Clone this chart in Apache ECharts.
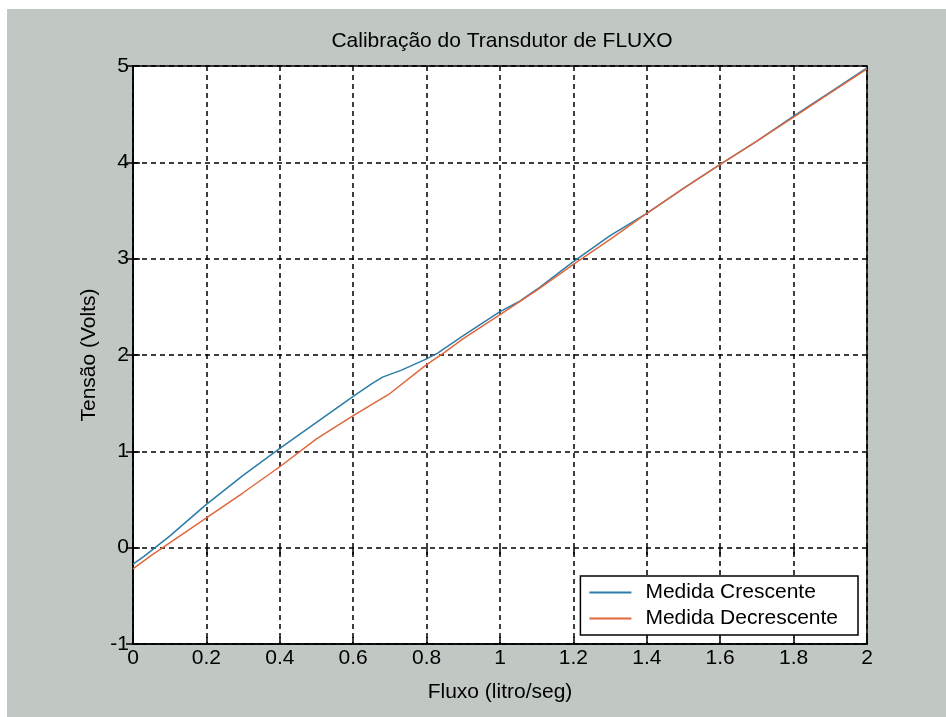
<!DOCTYPE html>
<html><head><meta charset="utf-8">
<script src="https://cdn.jsdelivr.net/npm/echarts@6/dist/echarts.min.js"></script>
<style>html,body{margin:0;padding:0;background:#fff;width:946px;height:717px;overflow:hidden}
#c{position:absolute;left:7px;top:9px;width:939px;height:708px;background:#c1c7c3}</style>
</head><body><div id="c"></div>
<script>
const titleText = 'Calibração do Transdutor de FLUXO';
const xLabel = 'Fluxo (litro/seg)';
const yLabel = 'Tensão (Volts)';
const seriesNames = ['Medida Crescente', 'Medida Decrescente'];
const crescX = [0, 0.03, 0.1, 0.2, 0.3, 0.4, 0.5, 0.6, 0.65, 0.68, 0.73, 0.8, 0.83, 0.9, 1.0, 1.05, 1.1, 1.2, 1.3, 1.4, 1.5, 1.6, 1.7, 1.8, 1.9, 2.0];
const crescY = [-0.17, -0.09, 0.12, 0.45, 0.75, 1.03, 1.30, 1.57, 1.70, 1.77, 1.84, 1.96, 2.02, 2.20, 2.45, 2.55, 2.68, 2.97, 3.24, 3.47, 3.73, 3.98, 4.22, 4.48, 4.73, 4.98];
const decX = [0, 0.05, 0.1, 0.2, 0.3, 0.4, 0.5, 0.6, 0.7, 0.8, 0.85, 0.9, 1.0, 1.1, 1.2, 1.3, 1.4, 1.5, 1.6, 1.7, 1.8, 1.9, 2.0];
const decY = [-0.22, -0.08, 0.05, 0.31, 0.57, 0.84, 1.13, 1.37, 1.60, 1.90, 2.03, 2.17, 2.42, 2.67, 2.94, 3.2, 3.47, 3.73, 3.98, 4.22, 4.47, 4.72, 4.97];
const colors = ['#2b7ca8', '#e0673d'];

const font = '"Liberation Sans", Arial, sans-serif';
const chart = echarts.init(document.getElementById('c'));
const gridLine = {show: true, lineStyle: {color: '#000', width: 1.5, type: [5, 4]}};
const tick = {show: true, inside: true, length: 7, lineStyle: {color: '#000', width: 1.5}};
chart.setOption({
  backgroundColor: 'transparent',
  title: {text: titleText, left: 490, top: 17, textAlign: 'center',
    textStyle: {fontFamily: font, fontSize: 21, fontWeight: 'normal', color: '#000'}},
  grid: {left: 126, right: 79, top: 57, bottom: 73, show: true, backgroundColor: '#fff', borderColor: '#000', borderWidth: 1.5},
  legend: {orient: 'vertical', right: 88, bottom: 82, backgroundColor: '#fff', borderColor: '#000', borderWidth: 1.5,
    borderRadius: 0, padding: [6, 20, 6, 9], itemGap: 5, itemWidth: 42, itemHeight: 2, icon: 'rect',
    textStyle: {fontFamily: font, fontSize: 21, color: '#000', padding: [0, 0, 0, 9]}, data: seriesNames},
  xAxis: [{type: 'value', min: 0, max: 2, interval: 0.2, name: xLabel, nameLocation: 'middle', nameGap: 38,
    nameTextStyle: {fontFamily: font, fontSize: 21, color: '#000'},
    axisLine: {show: true, onZero: false, lineStyle: {color: '#000', width: 1.5}},
    axisTick: tick,
    axisLabel: {fontFamily: font, fontSize: 21, color: '#000', margin: 4, formatter: v => String(+v.toFixed(1))},
    splitLine: gridLine},
    {type: 'value', position: 'top', min: 0, max: 2, interval: 0.2, axisLine: {show: false},
    axisTick: tick, axisLabel: {show: false}, splitLine: {show: false}}],
  yAxis: [{type: 'value', min: -1, max: 5, interval: 1, name: yLabel, nameLocation: 'middle', nameGap: 33,
    nameTextStyle: {fontFamily: font, fontSize: 21, color: '#000'},
    axisLine: {show: true, onZero: false, lineStyle: {color: '#000', width: 1.5}},
    axisTick: tick,
    axisLabel: {fontFamily: font, fontSize: 21, color: '#000', margin: 4},
    splitLine: gridLine},
    {type: 'value', position: 'right', min: -1, max: 5, interval: 1, axisLine: {show: false},
    axisTick: tick, axisLabel: {show: false}, splitLine: {show: false}}],
  series: [
    {name: seriesNames[0], type: 'line', symbol: 'none', color: colors[0], lineStyle: {width: 1.5},
     data: crescX.map((x, i) => [x, crescY[i]]), z: 3},
    {name: seriesNames[1], type: 'line', symbol: 'none', color: colors[1], lineStyle: {width: 1.5},
     data: decX.map((x, i) => [x, decY[i]]), z: 4}
  ]
});
</script></body></html>
